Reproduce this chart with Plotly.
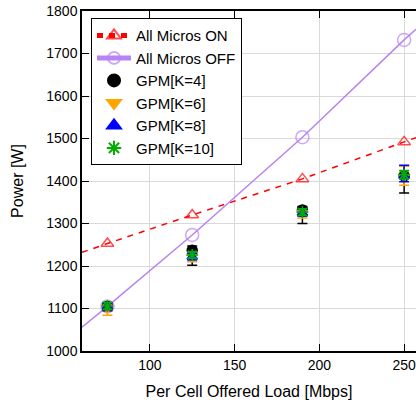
import plotly.graph_objects as go

# ---- data ----
load = [75, 125, 190, 250]

on_vals = [1253, 1320, 1405, 1492]
on_line_x = [60, 257]          # where the dashed fit line meets the plot edges
on_line_y = [1232, 1502]

off_vals = [1105, 1273, 1503, 1732]
off_line_x = [60, 257]
off_line_y = [1056, 1757]

k4 = [1105, 1237, 1332, 1412]
k4_plus = [8, 10, 8, 24]
k4_minus = [10, 35, 32, 40]

k6 = [1100, 1224, 1325, 1410]
k6_plus = [8, 8, 8, 25]
k6_minus = [16, 14, 12, 20]

k8 = [1105, 1222, 1325, 1412]
k8_plus = [8, 8, 8, 25]
k8_minus = [8, 8, 8, 14]

k10 = [1106, 1226, 1327, 1415]
k10_plus = [8, 8, 8, 10]
k10_minus = [8, 8, 8, 10]

x_ticks = [100, 150, 200, 250]
y_ticks = [1000, 1100, 1200, 1300, 1400, 1500, 1600, 1700, 1800]

FONT = "Liberation Sans, Arial, Helvetica, sans-serif"

def with_ends(xs, ys, lx, ly):
    x = [lx[0]] + xs + [lx[1]]
    y = [ly[0]] + ys + [ly[1]]
    return x, y

fig = go.Figure()

x_on, y_on = with_ends(load, on_vals, on_line_x, on_line_y)
fig.add_trace(go.Scatter(
    x=x_on, y=y_on, mode="lines+markers", name="All Micros ON",
    line=dict(color="#ff0000", width=1.5, dash="6px,6px"),
    marker=dict(symbol="triangle-up-open", color="#ff0000",
                size=[0] + [11] * len(load) + [0], line=dict(width=1.5)),
))

x_off, y_off = with_ends(load, off_vals, off_line_x, off_line_y)
fig.add_trace(go.Scatter(
    x=x_off, y=y_off, mode="lines+markers", name="All Micros OFF",
    line=dict(color="#b883f2", width=1.5),
    marker=dict(symbol="circle-open", color="#b883f2",
                size=[0] + [13] * len(load) + [0], line=dict(width=1.5)),
))

def gpm(name, vals, plus, minus, color, symbol, size):
    return go.Scatter(
        x=load, y=vals, mode="markers", name=name,
        marker=dict(symbol=symbol, color=color, size=size,
                    line=dict(color=color, width=1.5)),
        error_y=dict(type="data", symmetric=False, array=plus, arrayminus=minus,
                     color=color, thickness=1.5, width=5),
    )

fig.add_trace(gpm("GPM[K=4]", k4, k4_plus, k4_minus, "#000000", "circle", 10))
fig.add_trace(gpm("GPM[K=6]", k6, k6_plus, k6_minus, "#ffa500", "triangle-down", 9))
fig.add_trace(gpm("GPM[K=8]", k8, k8_plus, k8_minus, "#0000ff", "triangle-up", 9))
fig.add_trace(gpm("GPM[K=10]", k10, k10_plus, k10_minus, "#00b000", "asterisk-open", 10))

fig.update_layout(
    width=416, height=406,
    margin=dict(l=82, r=0, t=11, b=55, autoexpand=False),
    paper_bgcolor="white", plot_bgcolor="white",
    font=dict(family=FONT, size=14, color="black"),
    showlegend=True,
    legend=dict(
        x=0.027, y=0.979, xanchor="left", yanchor="top",
        bordercolor="black", borderwidth=1, bgcolor="white",
        font=dict(family=FONT, size=15), tracegroupgap=0,
        itemsizing="constant", itemwidth=34,
    ),
)

fig.update_xaxes(
    range=[60, 257], tickvals=x_ticks, ticktext=[str(v) for v in x_ticks],
    showgrid=True, gridcolor="#d9d9d9", gridwidth=1,
    showline=True, linecolor="black", linewidth=1.5, mirror="ticks",
    ticks="inside", ticklen=7, tickcolor="black", ticklabeloverflow="allow",
    title=dict(text="Per Cell Offered Load [Mbps]", font=dict(size=16), standoff=14),
    zeroline=False, automargin=False,
)
fig.update_yaxes(
    range=[1000, 1800], tickvals=y_ticks,
    showgrid=True, gridcolor="#d9d9d9", gridwidth=1,
    showline=True, linecolor="black", linewidth=1.5, mirror=False,
    ticks="inside", ticklen=7, tickcolor="black", ticklabeloverflow="allow",
    title=dict(text="Power [W]", font=dict(size=16), standoff=19),
    zeroline=False, automargin=False,
)

fig.write_html(
    "out.html",
    config={"displayModeBar": False},
    post_script="document.body.style.margin='0px';document.body.style.overflow='hidden';",
)
